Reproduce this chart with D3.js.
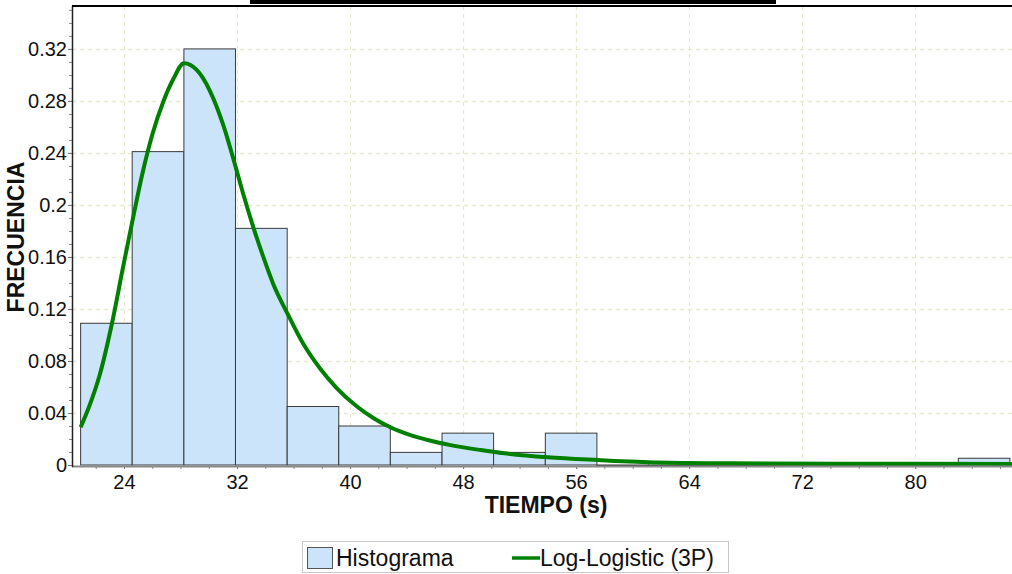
<!DOCTYPE html>
<html>
<head>
<meta charset="utf-8">
<script src="https://cdn.jsdelivr.net/npm/d3@7"></script>
<style>
  body { margin: 0; background: #fff; }
  svg { display: block; font-family: Arial, "Liberation Sans", sans-serif; }
</style>
</head>
<body>
<svg id="chart" width="1012" height="574"></svg>
<script>
// histogram bins (TIEMPO, s) - edges
const binEdges = [20.93, 24.58, 28.24, 31.89, 35.55, 39.20, 42.85, 46.51, 50.16, 53.82,
                  57.47, 61.12, 64.78, 68.43, 72.09, 75.74, 79.39, 83.05, 86.70];
const frequencies = [0.109, 0.241, 0.320, 0.182, 0.045, 0.030, 0.0097, 0.0245, 0.0097, 0.0245,
                     0, 0, 0, 0, 0, 0, 0, 0.0052];

// fitted Log-Logistic (3P) density
const curveT = [20.93, 21.50, 22.30, 23.15, 23.93, 24.64, 25.30, 26.00, 26.80, 27.50, 28.25,
                29.13, 30.07, 31.01, 31.96, 32.45, 33.15, 33.86, 34.57, 35.64, 36.70, 37.89,
                39.07, 40.49, 41.67, 42.86, 44.28, 45.70, 47.12, 49.25, 50.90, 53.98, 57.53,
                61.79, 67.00, 75.00, 86.85];
const curveF = [0.029, 0.044, 0.070, 0.109, 0.152, 0.190, 0.224, 0.254, 0.280, 0.297, 0.309,
                0.304, 0.288, 0.262, 0.227, 0.208, 0.183, 0.160, 0.139, 0.115, 0.093, 0.074,
                0.059, 0.045, 0.036, 0.029, 0.023, 0.0187, 0.0153, 0.0115, 0.0090, 0.0059, 0.0038,
                0.0019, 0.0013, 0.0010, 0.0008];

const xTicks = [24, 32, 40, 48, 56, 64, 72, 80];
const xMinorTicks = d3.range(22, 87, 2);
const yTicks = [0, 0.04, 0.08, 0.12, 0.16, 0.2, 0.24, 0.28, 0.32];
const yTickLabels = ['0', '0.04', '0.08', '0.12', '0.16', '0.2', '0.24', '0.28', '0.32'];
const yMinorTicks = d3.range(0, 0.355, 0.01);
const legendLabels = ['Histograma', 'Log-Logistic (3P)'];

const barColor = '#cce4fa';
const lineColor = '#008000';

const svg = d3.select('#chart');
const plotLeft = 72, plotRight = 1012, plotTop = 6, plotBottom = 465;

const x = d3.scaleLinear().domain([20.32, 86.85]).range([plotLeft, plotRight]);
const y = d3.scaleLinear().domain([0, 0.353]).range([plotBottom, plotTop]);

svg.append('rect').attr('width', 1012).attr('height', 574).attr('fill', '#fff');

// clipped title bar at the very top
svg.append('rect').attr('x', 250).attr('y', 0).attr('width', 526).attr('height', 4).attr('fill', '#000');

// grid
const grid = svg.append('g').attr('stroke', '#e9e9d2').attr('stroke-width', 1.3).attr('stroke-dasharray', '4,4');
grid.selectAll('line.v').data(xTicks).enter().append('line')
  .attr('x1', d => Math.round(x(d)) + 0.5).attr('x2', d => Math.round(x(d)) + 0.5)
  .attr('y1', plotTop).attr('y2', plotBottom);
grid.selectAll('line.h').data(yTicks.slice(1)).enter().append('line')
  .attr('x1', plotLeft).attr('x2', plotRight)
  .attr('y1', d => Math.round(y(d)) + 0.5).attr('y2', d => Math.round(y(d)) + 0.5);

// histogram bars
const bins = frequencies.map((f, i) => ({ x0: binEdges[i], x1: binEdges[i + 1], f: f }));
svg.append('g').selectAll('rect').data(bins).enter().append('rect')
  .attr('x', d => x(d.x0))
  .attr('width', d => x(d.x1) - x(d.x0))
  .attr('y', d => y(d.f))
  .attr('height', d => Math.max(1, y(0) - y(d.f)))
  .attr('fill', barColor)
  .attr('stroke', '#3a3a3a')
  .attr('stroke-width', 1);

// fitted curve
const pts = curveT.map((t, i) => [t, curveF[i]]);
svg.append('path').datum(pts)
  .attr('d', d3.line().x(d => x(d[0])).y(d => y(d[1])).curve(d3.curveMonotoneX))
  .attr('fill', 'none').attr('stroke', lineColor).attr('stroke-width', 4);

// y axis
const yMinor = svg.append('g').attr('transform', `translate(${plotLeft},0)`)
  .call(d3.axisLeft(y).tickValues(yMinorTicks).tickSize(3).tickFormat(''));
yMinor.select('.domain').remove();
yMinor.selectAll('line').attr('stroke', '#888');

const yAxis = svg.append('g').attr('transform', `translate(${plotLeft},0)`)
  .call(d3.axisLeft(y).tickValues(yTicks).tickSize(4).tickPadding(1)
    .tickFormat((d, i) => yTickLabels[i]));
yAxis.select('.domain').remove();
yAxis.selectAll('line').attr('stroke', '#777');
yAxis.selectAll('text').attr('font-size', 20).attr('fill', '#111').attr('font-family', 'Arial, "Liberation Sans", sans-serif');

// x axis
const xMinor = svg.append('g').attr('transform', `translate(0,${plotBottom + 1})`)
  .call(d3.axisBottom(x).tickValues(xMinorTicks).tickSize(3).tickFormat(''));
xMinor.select('.domain').remove();
xMinor.selectAll('line').attr('stroke', '#888');

const xAxis = svg.append('g').attr('transform', `translate(0,${plotBottom + 1})`)
  .call(d3.axisBottom(x).tickValues(xTicks).tickSize(3).tickPadding(6).tickFormat(d3.format('d')));
xAxis.select('.domain').remove();
xAxis.selectAll('line').attr('stroke', '#777');
xAxis.selectAll('text').attr('font-size', 20).attr('fill', '#111').attr('font-family', 'Arial, "Liberation Sans", sans-serif');

// frame lines
svg.append('line').attr('x1', plotLeft).attr('x2', plotRight).attr('y1', plotBottom + 1.5).attr('y2', plotBottom + 1.5)
  .attr('stroke', '#8a8a8a').attr('stroke-width', 2);
svg.append('line').attr('x1', plotLeft + 0.5).attr('x2', plotLeft + 0.5).attr('y1', plotTop).attr('y2', plotBottom + 2)
  .attr('stroke', '#222').attr('stroke-width', 1.5);
svg.append('line').attr('x1', plotLeft).attr('x2', plotRight).attr('y1', plotTop).attr('y2', plotTop)
  .attr('stroke', '#000').attr('stroke-width', 2);

// axis titles
svg.append('text').attr('x', 546).attr('y', 513).attr('text-anchor', 'middle')
  .attr('font-size', 23).attr('font-weight', 'bold').attr('fill', '#111').text('TIEMPO (s)');
svg.append('text').attr('transform', 'translate(24,237) rotate(-90)').attr('text-anchor', 'middle')
  .attr('font-size', 23).attr('font-weight', 'bold').attr('fill', '#111').text('FRECUENCIA');

// legend
const legend = svg.append('g');
legend.append('rect').attr('x', 302.5).attr('y', 541.5).attr('width', 426).attr('height', 31)
  .attr('fill', '#fff').attr('stroke', '#c8c8c8');
legend.append('rect').attr('x', 307.5).attr('y', 547.5).attr('width', 25).attr('height', 21)
  .attr('fill', barColor).attr('stroke', '#555');
legend.append('text').attr('x', 336).attr('y', 566).attr('font-size', 23).attr('fill', '#111').text(legendLabels[0]);
legend.append('line').attr('x1', 512).attr('x2', 540).attr('y1', 558).attr('y2', 558)
  .attr('stroke', lineColor).attr('stroke-width', 3.5);
legend.append('text').attr('x', 540).attr('y', 566).attr('font-size', 23).attr('fill', '#111').text(legendLabels[1]);
</script>
</body>
</html>
